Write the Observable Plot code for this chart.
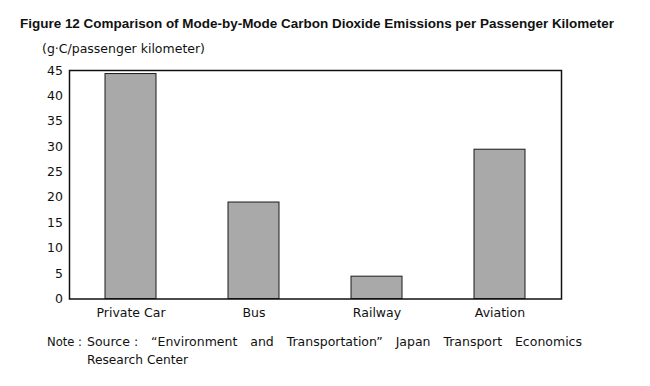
<!DOCTYPE html>
<html>
<head>
<meta charset="utf-8">
<script src="https://cdn.jsdelivr.net/npm/d3@7"></script>
<script src="https://cdn.jsdelivr.net/npm/@observablehq/plot@0.6"></script>
<style>
  html, body { margin: 0; padding: 0; background: #fff; }
  #wrap { position: relative; width: 650px; height: 386px; background: #fff; color: #111; overflow: hidden; }
  .t { position: absolute; white-space: nowrap; line-height: normal; transform-origin: 0 0; }
  #title { left: 20px; top: 17px; font: bold 12px "Liberation Sans", Arial, sans-serif; }
  #ylab { left: 42px; top: 41px; font: 12.5px "DejaVu Sans", sans-serif; }
  #chart { position: absolute; left: 0; top: 56px; }
  .note { font: 12.5px "DejaVu Sans", sans-serif; }
  #n1 { left: 47px; top: 333.5px; }
  #n1b { left: 87px; top: 333.5px; width: 495px; white-space: normal; text-align: justify; text-align-last: justify; }
  #n1b span { display: inline-block; }
  #n2 { left: 87px; top: 351.5px; }
</style>
</head>
<body>
<div id="wrap">
  <div class="t" id="title">Figure 12 Comparison of Mode-by-Mode Carbon Dioxide Emissions per Passenger Kilometer</div>
  <div class="t" id="ylab">(g·C/passenger kilometer)</div>
  <div id="chart"></div>
  <div class="t note" id="n1">Note :</div>
  <div class="t note" id="n1b"><span>Source :</span> “Environment and Transportation” Japan Transport Economics</div>
  <div class="t note" id="n2">Research Center</div>
</div>
<script>
const modes = ["Private Car", "Bus", "Railway", "Aviation"];
const emissions = [44.3, 19.0, 4.4, 29.4];
const yTicks = [0, 5, 10, 15, 20, 25, 30, 35, 40, 45];

const data = modes.map((m, i) => ({mode: m, value: emissions[i]}));

const chart = Plot.plot({
  width: 650,
  height: 274,
  marginTop: 14,
  marginBottom: 31.5,
  marginLeft: 69,
  marginRight: 89,
  style: {fontFamily: "DejaVu Sans, sans-serif", fontSize: "12.5px", color: "#111", background: "#fff"},
  x: {domain: modes, paddingInner: 0.585, paddingOuter: 0.29, label: null},
  y: {domain: [0, 45], label: null},
  marks: [
    Plot.barY(data, {x: "mode", y: "value", fill: "#a9a9a9", stroke: "#1a1a1a", strokeWidth: 1}),
    Plot.frame({stroke: "#111", strokeWidth: 1.5}),
    Plot.axisX({tickSize: 0, tickPadding: 9.5, label: null}),
    Plot.axisY({ticks: yTicks, tickSize: 0, tickPadding: 6.5, label: null, tickFormat: d => String(d)})
  ]
});
document.getElementById("chart").appendChild(chart);

function fit(id, target) {
  const el = document.getElementById(id);
  const w = el.getBoundingClientRect().width;
  if (w > 0) el.style.transform = `scaleX(${target / w})`;
}
fit("title", 594);
fit("ylab", 163);
fit("n1", 35);
fit("n2", 101);
</script>
</body>
</html>
